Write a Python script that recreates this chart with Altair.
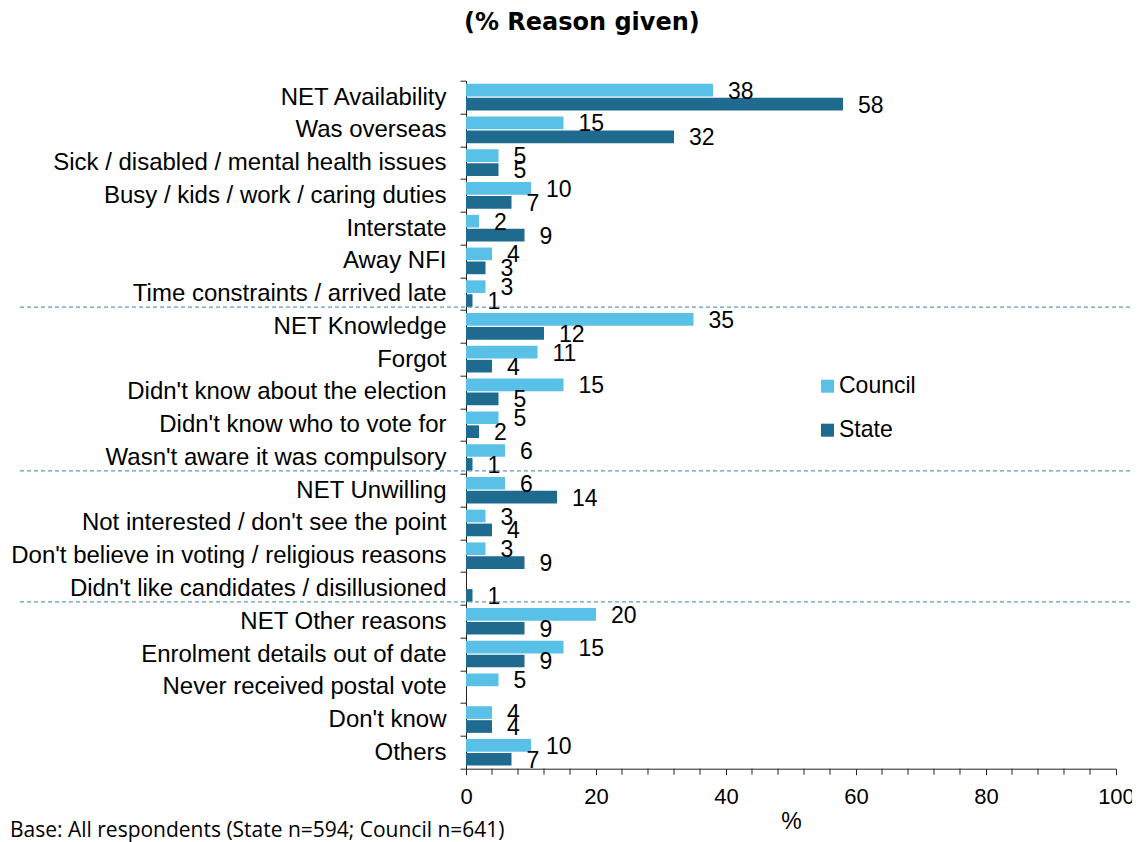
import altair as alt
import pandas as pd

categories = [
    "NET Availability",
    "Was overseas",
    "Sick / disabled / mental health issues",
    "Busy / kids / work / caring duties",
    "Interstate",
    "Away NFI",
    "Time constraints / arrived late",
    "NET Knowledge",
    "Forgot",
    "Didn't know about the election",
    "Didn't know who to vote for",
    "Wasn't aware it was compulsory",
    "NET Unwilling",
    "Not interested / don't see the point",
    "Don't believe in voting / religious reasons",
    "Didn't like candidates / disillusioned",
    "NET Other reasons",
    "Enrolment details out of date",
    "Never received postal vote",
    "Don't know",
    "Others",
]
council = [38, 15, 5, 10, 2, 4, 3, 35, 11, 15, 5, 6, 6, 3, 3, None, 20, 15, 5, 4, 10]
state = [58, 32, 5, 7, 9, 3, 1, 12, 4, 5, 2, 1, 14, 4, 9, 1, 9, 9, None, 4, 7]
series_names = ["Council", "State"]
series_colors = ["#59C0E8", "#1F6A8F"]
separators_after = [
    "Time constraints / arrived late",
    "Wasn't aware it was compulsory",
    "Didn't like candidates / disillusioned",
]
x_major_ticks = [0, 20, 40, 60, 80, 100]
x_minor_ticks = [v for v in range(0, 101, 4) if v % 20 != 0]
title_text = "(% Reason given)"
footnote_text = "Base: All respondents (State n=594; Council n=641)"

rows = []
for c, cv, sv in zip(categories, council, state):
    rows.append({"reason": c, "series": "Council", "value": cv})
    rows.append({"reason": c, "series": "State", "value": sv})
df = pd.DataFrame(rows).dropna()
sep_df = pd.DataFrame({"reason": separators_after})
minor_df = pd.DataFrame({"value": x_minor_ticks})

W, H = 650, 688
FONT = "Liberation Sans"
AXIS_COLOR = "#222222"

y_enc = alt.Y(
    "reason:N",
    sort=categories,
    scale=alt.Scale(paddingInner=0, paddingOuter=0),
    axis=alt.Axis(
        title=None,
        tickBand="extent",
        tickSize=6,
        tickColor=AXIS_COLOR,
        domainColor=AXIS_COLOR,
        labelFontSize=24,
        labelFont=FONT,
        labelColor="black",
        labelPadding=14,
        labelLimit=0,
        labelOverlap=False,
    ),
)
y_plain = alt.Y("reason:N", sort=categories)

x_enc = alt.X(
    "value:Q",
    scale=alt.Scale(domain=[0, 100], nice=False, zero=True),
    axis=alt.Axis(
        title="%",
        values=x_major_ticks,
        labelOverlap=False,
        tickSize=6,
        tickColor=AXIS_COLOR,
        domainColor=AXIS_COLOR,
        labelFontSize=22,
        labelFont=FONT,
        labelColor="black",
        labelPadding=12,
        titleFontSize=23,
        titleFont=FONT,
        titleFontWeight="normal",
        titleColor="black",
        titlePadding=3,
        grid=False,
        labelFlush=False,
    ),
)
x_plain = alt.X("value:Q")

yoff = alt.YOffset(
    "series:N",
    sort=series_names,
    scale=alt.Scale(paddingInner=0.09, paddingOuter=0.22),
)

bars = alt.Chart(df).mark_bar().encode(
    x=x_enc,
    y=y_enc,
    yOffset=yoff,
    color=alt.Color(
        "series:N",
        sort=series_names,
        scale=alt.Scale(domain=series_names, range=series_colors),
        legend=alt.Legend(
            title=None,
            orient="none",
            legendX=350,
            legendY=294,
            symbolType="square",
            symbolSize=169,
            symbolStrokeWidth=0,
            labelFontSize=23,
            labelFont=FONT,
            labelColor="black",
            labelOffset=0,
            rowPadding=20,
            padding=0,
        ),
    ),
)

labels = alt.Chart(df).mark_text(
    align="left", baseline="middle", dx=15, dy=1.5, fontSize=23, font=FONT, color="black"
).encode(
    x=x_plain,
    y=y_plain,
    yOffset=yoff,
    text=alt.Text("value:Q", format="d"),
)

minor = alt.Chart(minor_df).mark_rule(color=AXIS_COLOR, strokeWidth=1).encode(
    x=x_plain,
    y=alt.value(H),
    y2=alt.value(H + 6),
)

seps = alt.Chart(sep_df).mark_rule(
    color="#5E9BBE", strokeDash=[4, 3], strokeWidth=1.3, yOffset=-3
).encode(
    y=alt.Y("reason:N", sort=categories, bandPosition=1),
    x=alt.value(-446),
    x2=alt.value(664),
)

foot = alt.Chart(pd.DataFrame({"t": [footnote_text]})).mark_text(
    align="left", baseline="middle", fontSize=21, font="Open Sans", color="black"
).encode(
    x=alt.value(-456),
    y=alt.value(750),
    text="t:N",
)

chart = alt.layer(bars, labels, minor, seps, foot).properties(
    width=W,
    height=H,
    title=alt.TitleParams(
        title_text,
        anchor="start",
        frame="group",
        dx=-2,
        fontSize=24,
        font="DejaVu Sans",
        fontWeight="bold",
        color="black",
        offset=34,
    ),
    autosize=alt.AutoSizeParams(type="none"),
    padding={"left": 458, "top": 72.7, "right": 16, "bottom": 90},
).configure_view(stroke=None)

chart.save("out.html", embed_options={"renderer": "svg", "actions": False})
